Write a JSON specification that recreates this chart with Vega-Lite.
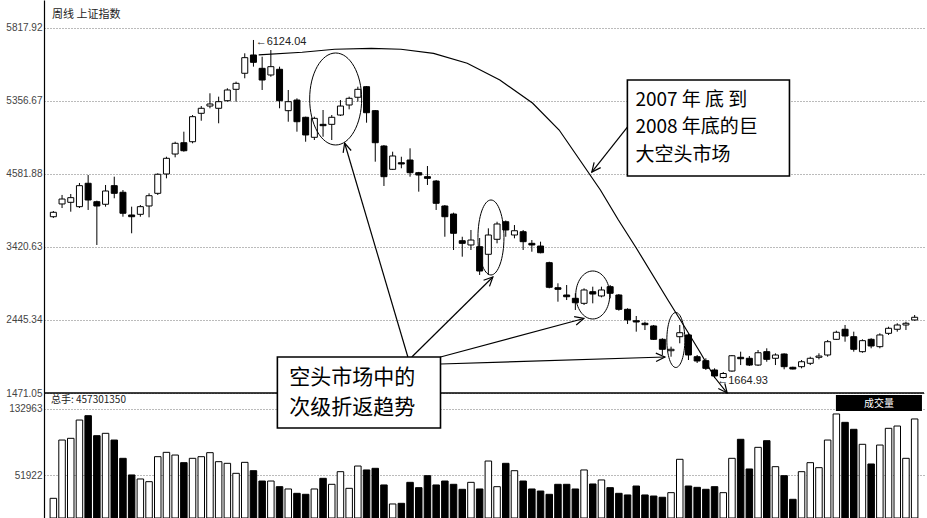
{
"$schema": "https://vega.github.io/schema/vega-lite/v6.json",
"width": 880, "height": 518,
"autosize": {"type": "none"},
"padding": {"left": 44, "top": 0, "right": 3, "bottom": 0},
"background": "white",
"config": {"view": {"stroke": null}, "font": "Liberation Sans"},
"datasets": {"candles": [
{"i":0,"open":3822,"high":3898,"low":3805,"close":3881,"volume":24000},
{"i":1,"open":3992,"high":4112,"low":3938,"close":4058,"volume":95100},
{"i":2,"open":4014,"high":4125,"low":3889,"close":4076,"volume":97200},
{"i":3,"open":3956,"high":4272,"low":3938,"close":4236,"volume":119500},
{"i":4,"open":4268,"high":4378,"low":3912,"close":4045,"volume":124800},
{"i":5,"open":4022,"high":4036,"low":3445,"close":3965,"volume":100400},
{"i":6,"open":3988,"high":4245,"low":3956,"close":4165,"volume":103300},
{"i":7,"open":4236,"high":4356,"low":4068,"close":4134,"volume":95100},
{"i":8,"open":4148,"high":4178,"low":3822,"close":3868,"volume":72800},
{"i":9,"open":3845,"high":3956,"low":3601,"close":3822,"volume":52500},
{"i":10,"open":3854,"high":3978,"low":3822,"close":3956,"volume":47600},
{"i":11,"open":3965,"high":4134,"low":3814,"close":4102,"volume":44300},
{"i":12,"open":4134,"high":4401,"low":4112,"close":4388,"volume":74800},
{"i":13,"open":4392,"high":4622,"low":4334,"close":4601,"volume":80100},
{"i":14,"open":4658,"high":4822,"low":4614,"close":4801,"volume":76800},
{"i":15,"open":4809,"high":4956,"low":4689,"close":4702,"volume":67500},
{"i":16,"open":4822,"high":5178,"low":4801,"close":5156,"volume":72800},
{"i":17,"open":5201,"high":5298,"low":5102,"close":5268,"volume":74800},
{"i":18,"open":5298,"high":5468,"low":5268,"close":5325,"volume":79700},
{"i":19,"open":5268,"high":5423,"low":5068,"close":5356,"volume":68700},
{"i":20,"open":5369,"high":5535,"low":5356,"close":5512,"volume":66700},
{"i":21,"open":5521,"high":5623,"low":5356,"close":5601,"volume":54500},
{"i":22,"open":5735,"high":6001,"low":5668,"close":5943,"volume":67900},
{"i":23,"open":5979,"high":6179,"low":5823,"close":5881,"volume":57700},
{"i":24,"open":5801,"high":5956,"low":5512,"close":5645,"volume":45100},
{"i":25,"open":5712,"high":6045,"low":5689,"close":5823,"volume":45100},
{"i":26,"open":5788,"high":5823,"low":5268,"close":5369,"volume":38200},
{"i":27,"open":5236,"high":5512,"low":5089,"close":5356,"volume":35400},
{"i":28,"open":5378,"high":5401,"low":4956,"close":5089,"volume":30100},
{"i":29,"open":5148,"high":5156,"low":4822,"close":4912,"volume":28900},
{"i":30,"open":4881,"high":5156,"low":4845,"close":5134,"volume":35400},
{"i":31,"open":5054,"high":5245,"low":4889,"close":5036,"volume":48400},
{"i":32,"open":5054,"high":5178,"low":4845,"close":5148,"volume":41100},
{"i":33,"open":5178,"high":5378,"low":5165,"close":5298,"volume":56500},
{"i":34,"open":5312,"high":5423,"low":5254,"close":5401,"volume":36200},
{"i":35,"open":5415,"high":5556,"low":5356,"close":5521,"volume":63400},
{"i":36,"open":5556,"high":5565,"low":5076,"close":5209,"volume":58600},
{"i":37,"open":5236,"high":5245,"low":4556,"close":4809,"volume":60600},
{"i":38,"open":4765,"high":4778,"low":4232,"close":4356,"volume":40300},
{"i":39,"open":4454,"high":4689,"low":4445,"close":4632,"volume":17100},
{"i":40,"open":4542,"high":4622,"low":4468,"close":4525,"volume":17900},
{"i":41,"open":4578,"high":4734,"low":4356,"close":4409,"volume":43500},
{"i":42,"open":4409,"high":4420,"low":4156,"close":4378,"volume":37000},
{"i":43,"open":4356,"high":4498,"low":4245,"close":4334,"volume":51600},
{"i":44,"open":4298,"high":4312,"low":3912,"close":4001,"volume":40300},
{"i":45,"open":3965,"high":3978,"low":3555,"close":3822,"volume":45100},
{"i":46,"open":3858,"high":3876,"low":3378,"close":3601,"volume":41100},
{"i":47,"open":3502,"high":3555,"low":3289,"close":3467,"volume":35000},
{"i":48,"open":3445,"high":3645,"low":3378,"close":3511,"volume":43500},
{"i":49,"open":3422,"high":3538,"low":3045,"close":3098,"volume":35400},
{"i":50,"open":3321,"high":3667,"low":3045,"close":3578,"volume":69500},
{"i":51,"open":3521,"high":3755,"low":3467,"close":3725,"volume":38200},
{"i":52,"open":3755,"high":3772,"low":3555,"close":3645,"volume":66700},
{"i":53,"open":3578,"high":3711,"low":3534,"close":3635,"volume":57700},
{"i":54,"open":3622,"high":3645,"low":3378,"close":3489,"volume":45100},
{"i":55,"open":3467,"high":3511,"low":3355,"close":3445,"volume":35400},
{"i":56,"open":3431,"high":3489,"low":3334,"close":3342,"volume":32900},
{"i":57,"open":3209,"high":3222,"low":2867,"close":2881,"volume":28900},
{"i":58,"open":2875,"high":2934,"low":2689,"close":2854,"volume":41100},
{"i":59,"open":2778,"high":2911,"low":2711,"close":2755,"volume":41100},
{"i":60,"open":2734,"high":2801,"low":2578,"close":2675,"volume":35400},
{"i":61,"open":2667,"high":2867,"low":2645,"close":2845,"volume":58600},
{"i":62,"open":2822,"high":2889,"low":2667,"close":2791,"volume":41500},
{"i":63,"open":2765,"high":2889,"low":2747,"close":2845,"volume":46400},
{"i":64,"open":2889,"high":2911,"low":2734,"close":2801,"volume":37000},
{"i":65,"open":2778,"high":2791,"low":2569,"close":2587,"volume":30100},
{"i":66,"open":2587,"high":2601,"low":2391,"close":2445,"volume":28100},
{"i":67,"open":2435,"high":2498,"low":2289,"close":2418,"volume":39000},
{"i":68,"open":2401,"high":2422,"low":2311,"close":2382,"volume":28100},
{"i":69,"open":2365,"high":2378,"low":2178,"close":2187,"volume":26800},
{"i":70,"open":2187,"high":2201,"low":1978,"close":2054,"volume":25300},
{"i":71,"open":2035,"high":2089,"low":1955,"close":2054,"volume":30900},
{"i":72,"open":2222,"high":2378,"low":2134,"close":2275,"volume":71600},
{"i":73,"open":2245,"high":2267,"low":1911,"close":1978,"volume":39000},
{"i":74,"open":1955,"high":1978,"low":1871,"close":1898,"volume":37400},
{"i":75,"open":1902,"high":1934,"low":1778,"close":1800,"volume":35000},
{"i":76,"open":1778,"high":1800,"low":1670,"close":1698,"volume":38200},
{"i":77,"open":1678,"high":1751,"low":1664.93,"close":1731,"volume":30900},
{"i":78,"open":1764,"high":1978,"low":1755,"close":1968,"volume":72800},
{"i":79,"open":1947,"high":2022,"low":1844,"close":1928,"volume":96000},
{"i":80,"open":1934,"high":1964,"low":1831,"close":1844,"volume":59800},
{"i":81,"open":1844,"high":2044,"low":1831,"close":2008,"volume":86200},
{"i":82,"open":2022,"high":2067,"low":1888,"close":1920,"volume":94300},
{"i":83,"open":1934,"high":2000,"low":1844,"close":1978,"volume":62600},
{"i":84,"open":1991,"high":2000,"low":1787,"close":1822,"volume":51600},
{"i":85,"open":1814,"high":1822,"low":1785,"close":1791,"volume":22800},
{"i":86,"open":1822,"high":1911,"low":1800,"close":1888,"volume":56500},
{"i":87,"open":1867,"high":1955,"low":1844,"close":1934,"volume":67500},
{"i":88,"open":1947,"high":2000,"low":1920,"close":1964,"volume":61400},
{"i":89,"open":1978,"high":2178,"low":1955,"close":2155,"volume":95100},
{"i":90,"open":2187,"high":2302,"low":2178,"close":2281,"volume":126900},
{"i":91,"open":2321,"high":2378,"low":2155,"close":2231,"volume":116700},
{"i":92,"open":2222,"high":2289,"low":2022,"close":2054,"volume":108200},
{"i":93,"open":2022,"high":2187,"low":2008,"close":2169,"volume":89900},
{"i":94,"open":2187,"high":2201,"low":2067,"close":2098,"volume":65900},
{"i":95,"open":2089,"high":2267,"low":2067,"close":2245,"volume":89000},
{"i":96,"open":2267,"high":2355,"low":2245,"close":2334,"volume":109400},
{"i":97,"open":2321,"high":2401,"low":2289,"close":2378,"volume":112200},
{"i":98,"open":2378,"high":2422,"low":2311,"close":2401,"volume":72800},
{"i":99,"open":2445,"high":2511,"low":2435,"close":2481,"volume":120800}
]},
"resolve": {"scale": {"y": "independent"}, "axis": {"y": "independent"}},
"layer": [
{
 "data": {"name": "candles"},
 "layer": [
  {"mark": {"type": "rule", "color": "black", "strokeWidth": 1},
   "encoding": {
    "x": {"field": "i", "type": "quantitative", "scale": {"domain": [-0.5, 99.5], "nice": false, "zero": false}, "axis": null},
    "y": {"field": "low", "type": "quantitative", "title": null,
      "scale": {"domain": [1471.05, 6712.1], "range": [393, 0], "nice": false, "zero": false},
      "axis": {"values": [1471.05, 2445.35, 3419.65, 4393.95, 5368.25, 6342.55],
        "labelExpr": "datum.value < 2000 ? '1471.05' : datum.value < 3000 ? '2445.34' : datum.value < 4000 ? '3420.63' : datum.value < 5000 ? '4581.88' : datum.value < 6000 ? '5356.67' : '5817.92'",
        "grid": true, "gridDash": [1, 2], "gridColor": "#777", "gridWidth": 1,
        "ticks": false, "domainColor": "#000", "domainWidth": 1.2,
        "labelFont": "Liberation Sans", "labelFontSize": 10, "labelColor": "#444", "labelPadding": 2, "title": null}},
    "y2": {"field": "high"}}},
  {"mark": {"type": "bar", "size": 6, "stroke": "black", "strokeWidth": 1},
   "encoding": {
    "x": {"field": "i", "type": "quantitative", "axis": null},
    "y": {"field": "open", "type": "quantitative", "title": null},
    "y2": {"field": "close"},
    "fill": {"condition": {"test": "datum.close > datum.open", "value": "white"}, "value": "black"}}},
  {"data": {"values": [{"y": 1471.05}]},
   "mark": {"type": "rule", "color": "black", "strokeWidth": 1.3},
   "encoding": {"y": {"field": "y", "type": "quantitative", "title": null}}},
  {"data": {"values": [{"x": 32.45, "y": 5392}]},
   "mark": {"type": "point", "shape": "M-0.565,0A0.565,1,0,1,1,0.565,0A0.565,1,0,1,1,-0.565,0Z", "size": 8464, "filled": false, "color": "black", "strokeWidth": 1, "opacity": 1},
   "encoding": {"x": {"field": "x", "type": "quantitative", "axis": null}, "y": {"field": "y", "type": "quantitative", "title": null}}},
  {"data": {"values": [{"x": 50.3, "y": 3545}]},
   "mark": {"type": "point", "shape": "M-0.347,0A0.347,1,0,1,1,0.347,0A0.347,1,0,1,1,-0.347,0Z", "size": 5625, "filled": false, "color": "black", "strokeWidth": 1, "opacity": 1},
   "encoding": {"x": {"field": "x", "type": "quantitative", "axis": null}, "y": {"field": "y", "type": "quantitative", "title": null}}},
  {"data": {"values": [{"x": 62.0, "y": 2778}]},
   "mark": {"type": "point", "shape": "M-0.708,0A0.708,1,0,1,1,0.708,0A0.708,1,0,1,1,-0.708,0Z", "size": 2304, "filled": false, "color": "black", "strokeWidth": 1, "opacity": 1},
   "encoding": {"x": {"field": "x", "type": "quantitative", "axis": null}, "y": {"field": "y", "type": "quantitative", "title": null}}},
  {"data": {"values": [{"x": 71.55, "y": 2178}]},
   "mark": {"type": "point", "shape": "M-0.327,0A0.327,1,0,1,1,0.327,0A0.327,1,0,1,1,-0.327,0Z", "size": 3025, "filled": false, "color": "black", "strokeWidth": 1, "opacity": 1},
   "encoding": {"x": {"field": "x", "type": "quantitative", "axis": null}, "y": {"field": "y", "type": "quantitative", "title": null}}},
  {"data": {"values": [
    {"id": "arc", "seq": 0, "x": 23.6, "y": 5979},
    {"id": "arc", "seq": 1, "x": 28.6, "y": 6015},
    {"id": "arc", "seq": 2, "x": 32.34, "y": 6055},
    {"id": "arc", "seq": 3, "x": 36.55, "y": 6068},
    {"id": "arc", "seq": 4, "x": 39.95, "y": 6055},
    {"id": "arc", "seq": 5, "x": 43.7, "y": 6001},
    {"id": "arc", "seq": 6, "x": 47.57, "y": 5868},
    {"id": "arc", "seq": 7, "x": 51.32, "y": 5645},
    {"id": "arc", "seq": 8, "x": 55.07, "y": 5338},
    {"id": "arc", "seq": 9, "x": 58.14, "y": 4978},
    {"id": "arc", "seq": 10, "x": 60.75, "y": 4538},
    {"id": "arc", "seq": 11, "x": 62.88, "y": 4178},
    {"id": "arc", "seq": 12, "x": 64.95, "y": 3778},
    {"id": "arc", "seq": 13, "x": 67.0, "y": 3405},
    {"id": "arc", "seq": 14, "x": 70.64, "y": 2711},
    {"id": "arc", "seq": 15, "x": 72.57, "y": 2351},
    {"id": "arc", "seq": 16, "x": 74.39, "y": 2004},
    {"id": "arc", "seq": 17, "x": 75.98, "y": 1684},
    {"id": "arc", "seq": 18, "x": 77.45, "y": 1471},
    {"id": "arcHead", "seq": 0, "x": 77.18, "y": 1600},
    {"id": "arcHead", "seq": 1, "x": 77.45, "y": 1471},
    {"id": "arcHead", "seq": 2, "x": 76.43, "y": 1530},
    {"id": "a1", "seq": 0, "x": 40.75, "y": 1951},
    {"id": "a1", "seq": 1, "x": 33.48, "y": 4805},
    {"id": "a1h", "seq": 0, "x": 33.31, "y": 4673},
    {"id": "a1h", "seq": 1, "x": 33.48, "y": 4805},
    {"id": "a1h", "seq": 2, "x": 34.23, "y": 4705},
    {"id": "a2", "seq": 0, "x": 41.2, "y": 1951},
    {"id": "a2", "seq": 1, "x": 50.52, "y": 3018},
    {"id": "a2h", "seq": 0, "x": 49.45, "y": 2974},
    {"id": "a2h", "seq": 1, "x": 50.52, "y": 3018},
    {"id": "a2h", "seq": 2, "x": 50.13, "y": 2893},
    {"id": "a3", "seq": 0, "x": 44.5, "y": 1951},
    {"id": "a3", "seq": 1, "x": 60.98, "y": 2465},
    {"id": "a3h", "seq": 0, "x": 59.86, "y": 2489},
    {"id": "a3h", "seq": 1, "x": 60.98, "y": 2465},
    {"id": "a3h", "seq": 2, "x": 60.1, "y": 2379},
    {"id": "a4", "seq": 0, "x": 44.5, "y": 1858},
    {"id": "a4", "seq": 1, "x": 70.3, "y": 1951},
    {"id": "a4h", "seq": 0, "x": 69.25, "y": 2003},
    {"id": "a4h", "seq": 1, "x": 70.3, "y": 1951},
    {"id": "a4h", "seq": 2, "x": 69.28, "y": 1891},
    {"id": "bA", "seq": 0, "x": 65.98, "y": 5018},
    {"id": "bA", "seq": 1, "x": 61.89, "y": 4418},
    {"id": "bAh", "seq": 0, "x": 62.91, "y": 4477},
    {"id": "bAh", "seq": 1, "x": 61.89, "y": 4418},
    {"id": "bAh", "seq": 2, "x": 62.16, "y": 4548}
   ]},
   "mark": {"type": "line", "color": "black", "strokeWidth": 1.2},
   "encoding": {"x": {"field": "x", "type": "quantitative", "axis": null},
     "y": {"field": "y", "type": "quantitative", "title": null},
     "detail": {"field": "id", "type": "nominal"},
     "order": {"field": "seq", "type": "quantitative"}}},
  {"data": {"values": [{"x": 65.98, "x2": 84.61, "y": 5645, "y2": 4365}]},
   "mark": {"type": "rect", "fill": "white", "stroke": "black", "strokeWidth": 1.6},
   "encoding": {"x": {"field": "x", "type": "quantitative", "axis": null}, "x2": {"field": "x2"},
     "y": {"field": "y", "type": "quantitative", "title": null}, "y2": {"field": "y2"}}},
  {"data": {"values": [
     {"x": 66.9, "y": 5378, "t": "2007  年  底  到"},
     {"x": 66.9, "y": 5012, "t": "2008 年底的巨"},
     {"x": 66.9, "y": 4645, "t": "大空头市场"}]},
   "mark": {"type": "text", "align": "left", "baseline": "middle", "font": "Noto Sans CJK SC", "fontSize": 19, "color": "black"},
   "encoding": {"x": {"field": "x", "type": "quantitative", "axis": null}, "y": {"field": "y", "type": "quantitative", "title": null}, "text": {"field": "t"}}},
  {"data": {"values": [
     {"x": -0.5, "y": 6512, "t": "周线  上证指数"}]},
   "mark": {"type": "text", "align": "left", "baseline": "middle", "font": "Noto Sans CJK SC", "fontSize": 11, "dx": 3, "color": "#222"},
   "encoding": {"x": {"field": "x", "type": "quantitative", "axis": null}, "y": {"field": "y", "type": "quantitative", "title": null}, "text": {"field": "t"}}},
  {"data": {"values": [
     {"x": 23.25, "y": 6156, "t": "←6124.04"},
     {"x": 76.3, "y": 1631, "t": "←1664.93"}]},
   "mark": {"type": "text", "align": "left", "baseline": "middle", "font": "Liberation Sans", "fontSize": 11, "color": "#222"},
   "encoding": {"x": {"field": "x", "type": "quantitative", "axis": null}, "y": {"field": "y", "type": "quantitative", "title": null}, "text": {"field": "t"}}}
 ]
},
{
 "data": {"name": "candles"},
 "layer": [
  {"mark": {"type": "bar", "size": 6.5, "stroke": "black", "strokeWidth": 1},
   "encoding": {
    "x": {"field": "i", "type": "quantitative", "axis": null},
    "y": {"field": "volume", "type": "quantitative", "title": null,
      "scale": {"domain": [0, 152475], "range": [518, 393], "nice": false, "zero": true},
      "axis": {"orient": "left", "values": [51922, 132963], "format": "d",
        "grid": true, "gridDash": [1, 2], "gridColor": "#777", "gridWidth": 1,
        "ticks": false, "domainColor": "#000", "domainWidth": 1.2,
        "labelFont": "Liberation Sans", "labelFontSize": 10, "labelColor": "#444", "labelPadding": 2, "title": null}},
    "fill": {"condition": {"test": "datum.close > datum.open", "value": "white"}, "value": "black"}}},
  {"data": {"values": [{"x": 25.75, "x2": 44.5, "y": 196388, "y2": 109782}]},
   "mark": {"type": "rect", "fill": "white", "stroke": "black", "strokeWidth": 1.6},
   "encoding": {"x": {"field": "x", "type": "quantitative", "axis": null}, "x2": {"field": "x2"},
     "y": {"field": "y", "type": "quantitative", "title": null}, "y2": {"field": "y2"}}},
  {"data": {"values": [
     {"x": 27.11, "y": 170772, "t": "空头市场中的"},
     {"x": 27.11, "y": 134178, "t": "次级折返趋势"}]},
   "mark": {"type": "text", "align": "left", "baseline": "middle", "font": "Noto Sans CJK SC", "fontSize": 21, "color": "black"},
   "encoding": {"x": {"field": "x", "type": "quantitative", "axis": null}, "y": {"field": "y", "type": "quantitative", "title": null}, "text": {"field": "t"}}},
  {"data": {"values": [{"x": -0.5, "y": 143936, "t": "总手: 457301350"}]},
   "mark": {"type": "text", "align": "left", "baseline": "middle", "font": "Noto Sans CJK SC", "fontSize": 10, "dx": 2, "color": "#222"},
   "encoding": {"x": {"field": "x", "type": "quantitative", "axis": null}, "y": {"field": "y", "type": "quantitative", "title": null}, "text": {"field": "t"}}},
  {"data": {"values": [{"x": 89.95, "x2": 99.84, "y": 150035, "y2": 130519}]},
   "mark": {"type": "rect", "fill": "black"},
   "encoding": {"x": {"field": "x", "type": "quantitative", "axis": null}, "x2": {"field": "x2"},
     "y": {"field": "y", "type": "quantitative", "title": null}, "y2": {"field": "y2"}}},
  {"data": {"values": [{"x": 94.9, "y": 139500, "t": "成交量"}]},
   "mark": {"type": "text", "align": "center", "baseline": "middle", "font": "Noto Sans CJK SC", "fontSize": 10, "color": "white"},
   "encoding": {"x": {"field": "x", "type": "quantitative", "axis": null}, "y": {"field": "y", "type": "quantitative", "title": null}, "text": {"field": "t"}}}
 ]
}
]
}
